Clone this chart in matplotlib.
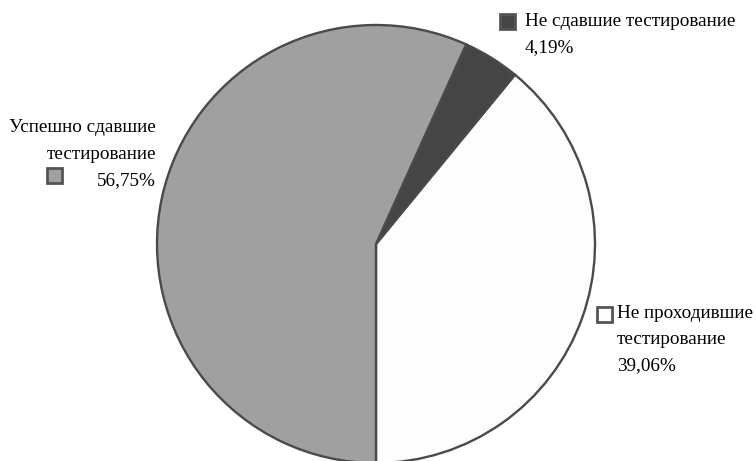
import matplotlib
matplotlib.use("Agg")
import matplotlib.pyplot as plt
from matplotlib.patches import Rectangle

# данные
categories = ["Не проходившие\nтестирование", "Не сдавшие тестирование", "Успешно сдавшие\nтестирование"]
values = [39.06, 4.19, 56.75]
colors = ["#fdfdfd", "#454545", "#a0a0a0"]

W, H = 756, 461
fig = plt.figure(figsize=(W / 100, H / 100), dpi=100)
ax = fig.add_axes([0, 0, 1, 1])

cx, cy, r = 376, H - 244, 219
ax.pie(values, colors=colors, startangle=-90, counterclock=True,
       center=(cx, cy), radius=r, frame=True,
       wedgeprops=dict(edgecolor="#4a4a4a", linewidth=1.7))
ax.set_xlim(0, W)
ax.set_ylim(0, H)
ax.set_aspect("equal")
ax.axis("off")

font = dict(family="Liberation Serif", fontsize=13.8, color="#000000")

def fmt(v):
    return ("%.2f" % v).replace(".", ",") + "%"

def square(x, y, c):
    ax.add_patch(Rectangle((x - 7.5, H - y - 7.5), 15, 15, facecolor=c,
                           edgecolor="#555555", linewidth=2, zorder=5))

# Не проходившие
square(604, 314, colors[0])
lines = categories[0].split("\n") + [fmt(values[0])]
for i, t in enumerate(lines):
    ax.text(617, H - (314 + 26 * i), t, ha="left", va="center", **font)

# Не сдавшие
square(507, 21, colors[1])
ax.text(525, H - 21, categories[1], ha="left", va="center", **font)
ax.text(525, H - 48, fmt(values[1]), ha="left", va="center", **font)

# Успешно сдавшие
square(54, 175, colors[2])
lines = categories[2].split("\n") + [fmt(values[2])]
for i, t in enumerate(lines):
    ax.text(156, H - (127 + 27 * i), t, ha="right", va="center", **font)

fig.savefig("out.png", dpi=100)
